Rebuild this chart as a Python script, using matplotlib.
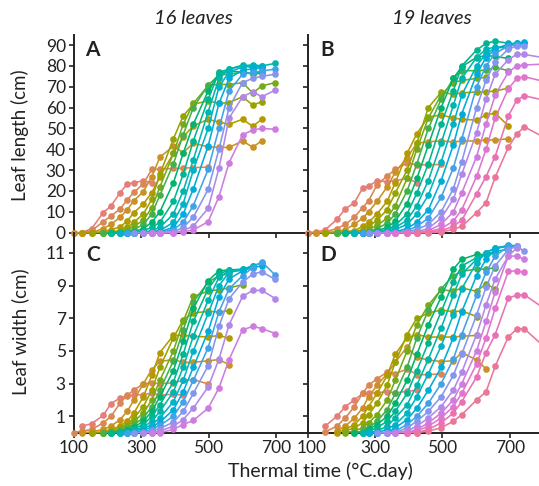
import numpy as np
import matplotlib
matplotlib.use('Agg')
import matplotlib.pyplot as plt
import matplotlib.transforms as mtransforms

plt.rcParams['font.family'] = ['Lato', 'DejaVu Sans']

# measurement dates (thermal time, degC.day)
t16 = [100, 124, 154, 188, 211, 238, 259, 279, 307, 332, 356, 396, 425, 455,
       499, 531, 561, 601, 631, 658, 698]
t19 = [100, 124, 152, 187, 212, 239, 263, 281, 306, 336, 360, 395, 424, 458,
       496, 532, 557, 601, 629, 656, 695, 720, 742, 815]

# leaf length, 16-leaf plants: index of first date for each leaf, then values
len16_first = [1, 0, 0, 1, 2, 3, 3, 4, 4, 5, 5, 6, 6, 7, 8, 9]
len16 = [
    [0, 2, 9.6, 12.8, 19.2, 23.3, 24, 24.9, 24],
    [0, 0, 1, 5.3, 8, 11.4, 15.7, 19.4, 23.4, 30.4, 30.5, 30.8, 31, 31.2, 31.5],
    [0, 0, 0, 2, 4, 7.4, 10.9, 15.4, 19.7, 26.9, 36.2, 41.5, 38.4, 42.9, 41.2,
     40.9, 40.9, 44, 41, 44.1],
    [0, 0, 0.5, 1.5, 2.7, 5.6, 9.6, 13.8, 19.2, 26.9, 38, 46, 51.2, 54.4, 53,
     52, 54.4, 51, 54.4],
    [0, 0, 0.5, 1, 2.5, 5, 9, 16, 28, 45, 56, 61.6, 63.2, 62, 62.4, 65.2, 61.2,
     62.8],
    [0, 0, 0.5, 1.5, 3, 6, 12, 22, 38, 52, 62, 70.5, 71.2, 71, 72, 67, 70.4, 72],
    [0, 0, 0, 0.5, 1.5, 4, 9, 18, 33, 47, 60, 70.8, 75.6, 76, 77, 76, 76.5],
    [0, 0, 0, 0.5, 2, 5, 10, 24, 38, 52, 68, 76.5, 77.5, 77, 76.5, 77],
    [0, 0, 0, 0, 1, 2.5, 5, 15, 28, 44, 64, 77, 78.4, 80.4, 79, 80],
    [0, 0, 0, 0.3, 1, 2.5, 9, 20, 35, 58, 74, 78.5, 80, 80.5, 80, 81.2],
    [0, 0, 0, 0, 0.5, 1, 5, 14, 30, 50, 70, 77, 79.5, 80, 79.5],
    [0, 0, 0, 0, 0.5, 2.5, 9, 21, 41.6, 62, 74, 78, 78.5, 79],
    [0, 0, 0, 0, 0, 1.5, 5, 13, 30.4, 50, 68, 76, 77, 77.5, 78.5],
    [0, 0, 0, 0, 0.5, 2.5, 7.4, 20.8, 40, 60, 72, 74, 75, 76],
    [0, 0, 0, 0, 1, 3.2, 11.7, 30.9, 55, 65.2, 67.6, 65.2, 68.4],
    [0, 0, 0, 0.5, 1.3, 5.3, 17.3, 33.6, 46.9, 49.3, 50, 49.6],
]

# leaf length, 19-leaf plants
len19_first = [0, 0, 1, 2, 2, 3, 3, 4, 4, 5, 5, 6, 6, 7, 8, 9, 10, 11, 12]
len19 = [
    [0, 0.3, 1.3, 6.4, 11.4, 14.4, 21.3, 22.4, 24.8, 24.5, 24.9, 26.1, 24],
    [0, 0, 0.3, 2, 4, 7.4, 12, 15.3, 22.9, 27.2, 30.4, 33.3, 32.6, 32.5, 32.8],
    [0, 0, 0.5, 1.5, 4, 7, 10, 15, 22, 29, 36, 42.9, 43.6, 44, 43.5, 44, 44,
     44.5, 44.5, 45],
    [0, 0, 0.5, 1, 3, 5, 9, 15, 24, 38, 47.5, 55.5, 56.5, 55, 54.4, 54, 56.5,
     57.3, 51.3],
    [0, 0, 0, 0.5, 1.5, 3, 6, 11, 19, 30, 43, 60, 67.3, 66.4, 67, 67.5, 67.5,
     68, 69.3],
    [0, 0, 0, 0.5, 1.5, 3.5, 7, 13, 26, 40, 55, 66, 72, 73, 74, 74.5],
    [0, 0, 0, 0, 0.5, 2, 4.5, 9, 20, 33, 50, 64, 74, 77.7, 77.7, 78, 79.3,
     77.7],
    [0, 0, 0, 0, 1, 2.5, 5.5, 14, 26, 42, 60, 74, 79.6, 84.1, 85, 84.5, 83.6],
    [0, 0, 0, 0, 0.5, 1.5, 3.5, 9, 19, 33, 52, 68, 80, 87.6, 90.8, 91.9, 90.8],
    [0, 0, 0, 0.3, 1, 2.5, 6, 13, 25, 43, 61, 74, 84, 88, 89, 88.5],
    [0, 0, 0, 0, 0.5, 1.5, 4, 9, 18, 34, 52, 66, 80, 86, 88.5, 90, 90.8, 91],
    [0, 0, 0, 0, 0.5, 2, 5, 11, 25, 42, 57, 76, 84, 88, 90.5, 91, 91.3],
    [0, 0, 0, 0, 0, 1, 3, 7, 17, 31, 45, 70, 80, 86, 89.5, 90],
    [0, 0, 0, 0, 0.5, 1.5, 4, 10, 21, 34, 60, 73, 82, 88, 89.5, 89.3],
    [0, 0, 0, 0, 0.5, 2, 7, 16, 28, 48, 64, 76, 83, 85.5, 85.5, 83.5],
    [0, 0, 0, 0, 1, 4, 10, 19, 36.5, 52, 66, 77, 80, 80.4, 81],
    [0, 0, 0, 0.5, 2, 5.5, 11, 27, 40, 55, 69, 74, 74.8, 72],
    [0, 0, 0.3, 1, 3, 6, 18.6, 26.9, 36.5, 56, 63.5, 65.7, 63],
    [0, 0, 0.3, 1.6, 3, 9.6, 14.4, 26.6, 41, 47.2, 50.8, 44.5],
]

# leaf width, 16-leaf plants
wid16_first = [1, 0, 1, 2, 2, 3, 3, 4, 4, 5, 5, 6, 6, 7, 8, 9]
wid16 = [
    [0.4, 0.55, 1.06, 1.78, 2.12, 2.25, 2.3, 2.33, 2.43, 2.3, 2.35, 2.3],
    [0, 0.1, 0.2, 0.6, 1.0, 1.8, 2.3, 2.6, 3.0, 3.05, 3.0, 3.05, 3.2, 3.25,
     2.98],
    [0, 0.05, 0.2, 0.4, 0.8, 1.3, 2.0, 3.0, 3.86, 4.36, 4.47, 4.3, 4.3, 4.4,
     4.47, 4.16],
    [0, 0.05, 0.2, 0.4, 0.7, 1.2, 2.2, 3.5, 4.9, 5.95, 5.95, 5.9, 5.85, 5.95,
     5.77],
    [0, 0, 0.1, 0.3, 0.5, 0.9, 1.6, 2.6, 4.0, 5.8, 6.9, 7.32, 7.42, 7.38, 7.47],
    [0, 0.05, 0.2, 0.4, 0.7, 1.2, 2.0, 3.2, 5.0, 6.8, 8.34, 8.65, 8.75, 8.85,
     9.06],
    [0, 0, 0.1, 0.25, 0.5, 0.9, 1.6, 2.6, 4.4, 6.3, 8.0, 9.2, 9.6, 9.7],
    [0, 0.05, 0.15, 0.35, 0.7, 1.3, 2.2, 3.8, 5.6, 7.6, 9.3, 9.9, 9.95, 10.0],
    [0, 0, 0.1, 0.25, 0.5, 1.0, 1.7, 3.1, 4.8, 6.8, 8.8, 9.7, 9.95, 9.9],
    [0, 0.05, 0.15, 0.35, 0.7, 1.3, 2.5, 4.0, 5.9, 8.1, 9.5, 9.9, 10.0, 10.2],
    [0, 0, 0.1, 0.25, 0.5, 0.9, 1.9, 3.2, 5.0, 7.3, 9.0, 9.8, 9.96, 10.2,
     10.4],
    [0, 0, 0.15, 0.35, 0.65, 1.4, 2.5, 4.0, 6.2, 8.3, 9.4, 9.9, 10.1, 10.2],
    [0, 0, 0.05, 0.2, 0.45, 1.0, 1.9, 3.2, 5.2, 7.4, 8.8, 9.6, 10.1, 10.45,
     9.63],
    [0, 0, 0.1, 0.25, 0.65, 1.3, 2.4, 4.1, 6.5, 8.2, 9.2, 9.7, 9.84, 9.37],
    [0, 0, 0.1, 0.4, 0.8, 1.5, 2.8, 4.5, 6.6, 8.34, 8.7, 8.7, 8.2],
    [0, 0, 0.2, 0.5, 0.75, 1.5, 2.74, 4.47, 6.29, 6.5, 6.37, 6.06],
]

# leaf width, 19-leaf plants
wid19_first = [2, 2, 3, 3, 4, 4, 5, 5, 6, 6, 7, 7, 8, 8, 9, 10, 11, 11, 12]
wid19 = [
    [0.4, 1.0, 1.6, 2.0, 2.4, 2.4, 2.45, 2.5, 2.43, 2.53, 2.6],
    [0.05, 0.4, 0.9, 1.6, 2.4, 2.9, 3.3, 3.7, 3.6, 3.9, 3.55, 3.55, 3.6],
    [0.1, 0.4, 0.9, 1.5, 2.2, 2.9, 3.6, 4.3, 5.25, 4.6, 4.45, 4.35, 4.4, 4.9,
     4.45, 3.9],
    [0, 0.2, 0.5, 1.0, 1.6, 2.4, 3.5, 4.8, 5.8, 6.0, 5.85, 5.85, 5.85, 5.9,
     5.95],
    [0.1, 0.3, 0.6, 1.1, 1.8, 2.9, 4.3, 6.0, 7.0, 7.32, 7.5, 7.4, 7.45, 7.1],
    [0, 0.1, 0.3, 0.6, 1.1, 2.0, 3.2, 5.0, 6.6, 7.8, 8.75, 8.65, 8.85, 8.65,
     9.1, 8.8],
    [0, 0.1, 0.3, 0.7, 1.4, 2.4, 4.0, 5.8, 7.5, 8.8, 9.6, 9.87, 10.0, 10.0,
     10.1],
    [0, 0, 0.2, 0.5, 1.0, 1.8, 3.2, 4.8, 6.6, 8.3, 10.0, 10.6, 10.9, 10.9,
     11.0],
    [0, 0.1, 0.3, 0.7, 1.3, 2.4, 3.8, 5.5, 7.4, 9.2, 10.2, 10.7, 10.9, 11.1,
     11.2],
    [0, 0, 0.1, 0.4, 0.9, 1.7, 2.9, 4.5, 6.4, 8.4, 9.7, 10.6, 11.0, 11.3,
     11.4],
    [0, 0, 0.2, 0.5, 1.2, 2.2, 3.6, 5.3, 7.2, 8.8, 10.4, 11.0, 11.3, 11.4],
    [0, 0, 0, 0.3, 0.8, 1.5, 2.6, 4.0, 5.8, 7.4, 9.6, 10.6, 11.2, 11.5, 11.4],
    [0, 0, 0.1, 0.5, 1.0, 1.8, 3.0, 4.5, 6.0, 8.4, 9.8, 10.8, 11.4, 11.4],
    [0, 0, 0, 0.3, 0.7, 1.3, 2.2, 3.5, 4.8, 7.2, 8.9, 10.2, 11.2, 11.4, 11.1],
    [0, 0, 0.1, 0.4, 0.9, 1.6, 2.6, 3.7, 6.0, 7.8, 9.4, 10.8, 11.3],
    [0, 0, 0.2, 0.6, 1.2, 2.0, 3.0, 5.0, 6.8, 8.6, 10.8, 10.8, 10.6],
    [0, 0.1, 0.4, 0.9, 1.6, 2.4, 4.2, 5.8, 7.6, 9.87, 9.9, 9.8],
    [0, 0, 0.2, 0.6, 1.2, 1.9, 3.4, 4.9, 6.0, 8.24, 8.4, 8.44, 7.4],
    [0, 0.1, 0.3, 0.7, 1.1, 2.0, 2.5, 4.06, 5.86, 6.33, 6.36, 5.0],
]


def hue_colour(h, c=76, l=64):
    # polar Luv -> sRGB, same idea as the default ggplot hue palette
    h = np.deg2rad(h)
    u, v = c * np.cos(h), c * np.sin(h)
    Y = ((l + 16) / 116) ** 3
    xn, yn, zn = 0.95047, 1.0, 1.08883
    d = xn + 15 * yn + 3 * zn
    up = u / (13 * l) + 4 * xn / d
    vp = v / (13 * l) + 9 * yn / d
    X = Y * 9 * up / (4 * vp)
    Z = Y * (12 - 3 * up - 20 * vp) / (4 * vp)
    rgb = np.array([3.2406 * X - 1.5372 * Y - 0.4986 * Z,
                    -0.9689 * X + 1.8758 * Y + 0.0415 * Z,
                    0.0557 * X - 0.2040 * Y + 1.0570 * Z])
    rgb = np.where(rgb > 0.0031308, 1.055 * np.abs(rgb) ** (1 / 2.4) - 0.055,
                   12.92 * rgb)
    return tuple(np.clip(rgb, 0, 1))


colours = [hue_colour(15 + 360 * i / 19) for i in range(19)]

W, H = 539, 486
fig = plt.figure(figsize=(W / 100, H / 100), dpi=100)
k = 0.3375  # pixels per degC.day


def box(x0, y0, x1, y1):
    return [x0 / W, 1 - y1 / H, (x1 - x0) / W, (y1 - y0) / H]


axA = fig.add_axes(box(73.5, 34.6, 73.5 + 700 * k, 232.7))
axB = fig.add_axes(box(307.5, 34.6, 307.5 + 780 * k, 232.7))
axC = fig.add_axes(box(73.5, 232.7, 73.5 + 700 * k, 432.7))
axD = fig.add_axes(box(307.5, 232.7, 307.5 + 780 * k, 432.7))


def draw(ax, times, first, vals):
    for i, (s, v) in enumerate(zip(first, vals)):
        ax.plot(times[s:s + len(v)], v, '-o', color=colours[i], lw=1.15,
                ms=4.8, mew=0, clip_on=False, zorder=3)


draw(axA, t16, len16_first, len16)
draw(axB, t19, len19_first, len19)
draw(axC, t16, wid16_first, wid16)
draw(axD, t19, wid19_first, wid19)

for ax in (axA, axB, axC, axD):
    for side in ('top', 'right'):
        ax.spines[side].set_visible(False)
    for side in ('left', 'bottom'):
        ax.spines[side].set_linewidth(1.4)
        ax.spines[side].set_color('#222222')
    ax.set_xticks([100, 300, 500, 700])
    ax.tick_params(direction='out', length=3.5, width=1.2, color='#222222',
                   labelsize=12.5, pad=2, labelcolor='#222222')
    ax.patch.set_visible(False)

axA.set_xlim(100, 800)
axC.set_xlim(100, 800)
axB.set_xlim(100, 880)
axD.set_xlim(100, 880)
for ax in (axA, axB):
    ax.set_ylim(0, 95)
    ax.set_yticks(range(0, 91, 10))
    ax.tick_params(labelbottom=False)
for ax in (axC, axD):
    ax.set_ylim(0, 12.23)
    ax.set_yticks([1, 3, 5, 7, 9, 11])
for ax in (axB, axD):
    ax.tick_params(labelleft=False)

# nudge the "100" of the right panel so it clears the "700" beside it
first = axD.get_xticklabels()[0]
first.set_transform(first.get_transform() + mtransforms.ScaledTranslation(
    0.04, 0, fig.dpi_scale_trans))

for ax, letter, x, y in ((axA, 'A', 0.05, 0.975), (axB, 'B', 0.05, 0.975),
                         (axC, 'C', 0.053, 0.94), (axD, 'D', 0.05, 0.94)):
    ax.text(x, y, letter, transform=ax.transAxes, ha='left', va='top',
            fontsize=15, fontweight='bold', color='#222222')

fig.text(193 / W, 1 - 18 / H, '16 leaves', ha='center', va='center',
         fontsize=14.5, style='italic', color='#222222')
fig.text(432 / W, 1 - 18 / H, '19 leaves', ha='center', va='center',
         fontsize=14.5, style='italic', color='#222222')
fig.text(20 / W, 1 - 135 / H, 'Leaf length (cm)', rotation=90, ha='center',
         va='center', fontsize=13.5, color='#222222')
fig.text(20 / W, 1 - 332 / H, 'Leaf width (cm)', rotation=90, ha='center',
         va='center', fontsize=13.5, color='#222222')
fig.text(320 / W, 1 - 477 / H, 'Thermal time (°C.day)', ha='center',
         va='baseline', fontsize=14, color='#222222')

fig.savefig('out.png', dpi=100)
